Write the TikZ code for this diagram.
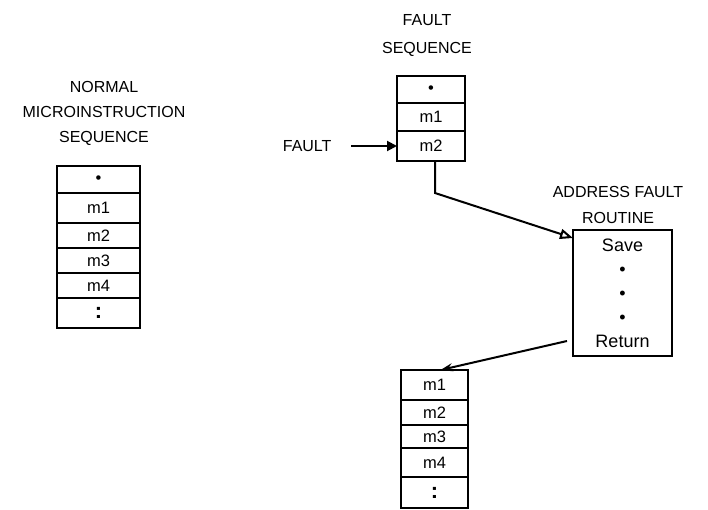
\documentclass[tikz,border=0pt]{standalone}
\usepackage{fontspec}
\setmainfont{Liberation Sans}
\usetikzlibrary{positioning,arrows.meta}
\tikzset{
  cell/.style={draw, line width=2pt, inner sep=0pt, outer sep=0pt, font=\fontsize{16.5}{18}\selectfont},
  lbl/.style={align=center, font=\fontsize{16}{26}\selectfont},
  flow/.style={line width=2pt}
}
\newcommand{\colondots}{{\fontsize{22}{22}\selectfont\textbf{:}}}

\begin{document}
\begin{tikzpicture}[x=1pt, y=-1pt]
\useasboundingbox (0,0) rectangle (708,510);
% normal sequence
\node[lbl, font=\fontsize{16}{25}\selectfont] (ntitle) at (104,113) {NORMAL\\MICROINSTRUCTION\\SEQUENCE};
\node[cell, minimum width=83pt, minimum height=27pt] (n0) at (98.5,179.5) {\textbullet};
\node[cell, minimum width=83pt, minimum height=30pt, below=0pt of n0] (n1) {m1};
\node[cell, minimum width=83pt, minimum height=25pt, below=0pt of n1] (n2) {m2};
\node[cell, minimum width=83pt, minimum height=25pt, below=0pt of n2] (n3) {m3};
\node[cell, minimum width=83pt, minimum height=25pt, below=0pt of n3] (n4) {m4};
\node[cell, minimum width=83pt, minimum height=30pt, below=0pt of n4] (n5) {\colondots};
% fault sequence
\node[lbl, font=\fontsize{16}{28}\selectfont] (ftitle) at (427,36) {FAULT\\SEQUENCE};
\node[cell, minimum width=68pt, minimum height=27pt] (f0) at (431,89.5) {\textbullet};
\node[cell, minimum width=68pt, minimum height=28pt, below=0pt of f0] (f1) {m1};
\node[cell, minimum width=68pt, minimum height=30pt, below=0pt of f1] (f2) {m2};
\node[lbl, left=62pt of f2] (flt) {FAULT};
% routine
\node[lbl] (rtitle) at (618,205) {ADDRESS FAULT\\ROUTINE};
\node[cell, minimum width=99pt, minimum height=126pt, align=center, font=\fontsize{18}{24}\selectfont] (rt) at (622.5,293) {Save\\\textbullet\\\textbullet\\\textbullet\\Return};
% resumed sequence
\node[cell, minimum width=67pt, minimum height=30pt] (b1) at (434.5,385) {m1};
\node[cell, minimum width=67pt, minimum height=25pt, below=0pt of b1] (b2) {m2};
\node[cell, minimum width=67pt, minimum height=23pt, below=0pt of b2] (b3) {m3};
\node[cell, minimum width=67pt, minimum height=29pt, below=0pt of b3] (b4) {m4};
\node[cell, minimum width=67pt, minimum height=31pt, below=0pt of b4] (b5) {\colondots};
% connectors
\draw[flow, -{Triangle[length=10pt,width=10pt]}, shorten <=16pt] (flt) -- (f2);
\draw[flow, -{Triangle[open,length=13pt,width=10pt]}] ([xshift=4pt]f2.south) -- ++(0,32) -- ([yshift=-8pt]rt.north west);
\draw[flow, -{Stealth[length=12pt,width=8pt]}] ([xshift=-6pt,yshift=15pt]rt.south west) -- ([xshift=6pt]b1.north);
\end{tikzpicture}
\end{document}
